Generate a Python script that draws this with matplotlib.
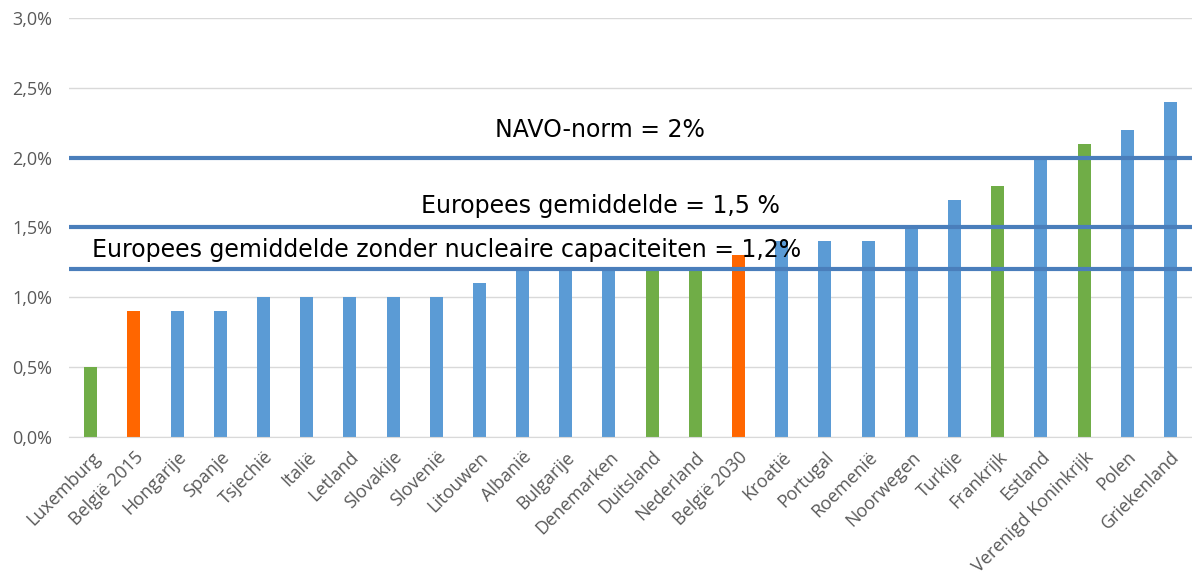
import matplotlib.pyplot as plt
import numpy as np

countries = ["Luxemburg", "België 2015", "Hongarije", "Spanje", "Tsjechië", "Italië",
             "Letland", "Slovakije", "Slovenië", "Litouwen", "Albanië", "Bulgarije",
             "Denemarken", "Duitsland", "Nederland", "België 2030", "Kroatië", "Portugal",
             "Roemenië", "Noorwegen", "Turkije", "Frankrijk", "Estland",
             "Verenigd Koninkrijk", "Polen", "Griekenland"]
values = [0.5, 0.9, 0.9, 0.9, 1.0, 1.0, 1.0, 1.0, 1.0, 1.1, 1.2, 1.2, 1.2, 1.2, 1.2,
          1.3, 1.4, 1.4, 1.4, 1.5, 1.7, 1.8, 2.0, 2.1, 2.2, 2.4]
groups = ["g", "o", "b", "b", "b", "b", "b", "b", "b", "b", "b", "b", "b", "g", "g",
          "o", "b", "b", "b", "b", "b", "g", "b", "g", "b", "b"]
norm_levels = [2.0, 1.5, 1.2]
norm_labels = ["NAVO-norm = 2%", "Europees gemiddelde = 1,5 %",
               "Europees gemiddelde zonder nucleaire capaciteiten = 1,2%"]

colors = {"b": "#5B9BD5", "g": "#70AD47", "o": "#FF6600"}

fig = plt.figure(figsize=(11.92, 5.78), dpi=100)
ax = fig.add_axes([0.058, 0.244, 0.942, 0.725])

x = np.arange(len(countries))
ax.bar(x, values, width=0.3, color=[colors[g] for g in groups], zorder=2)

for lvl in norm_levels:
    ax.axhline(lvl, color="#4A7EBB", linewidth=3, zorder=3)

# labels for the reference lines
ax.text(0.473, 2.2, norm_labels[0], transform=ax.get_yaxis_transform(),
        ha="center", va="center", fontsize=17, family="DejaVu Sans", zorder=4)
ax.text(0.473, 1.65, norm_labels[1], transform=ax.get_yaxis_transform(),
        ha="center", va="center", fontsize=17, family="DejaVu Sans", zorder=4)
ax.text(0.02, 1.34, norm_labels[2], transform=ax.get_yaxis_transform(),
        ha="left", va="center", fontsize=17, family="DejaVu Sans", zorder=4)

ax.set_xlim(-0.5, len(countries) - 0.5)
ax.set_ylim(0, 3.0)
ax.set_yticks(np.arange(0, 3.01, 0.5))
ax.set_yticklabels([f"{v:.1f}%".replace(".", ",") for v in np.arange(0, 3.01, 0.5)])
ax.set_xticks(x)
ax.set_xticklabels(countries, rotation=45, ha="right", rotation_mode="anchor")

for lbl in ax.get_xticklabels() + ax.get_yticklabels():
    lbl.set_family("Open Sans")
    lbl.set_fontsize(13)
    lbl.set_color("#595959")

ax.grid(axis="y", color="#D9D9D9", linewidth=1, zorder=0)
ax.tick_params(axis="x", length=0, pad=8)
ax.tick_params(axis="y", length=0, pad=12)
for side in ["top", "right", "left"]:
    ax.spines[side].set_visible(False)
ax.spines["bottom"].set_color("#D9D9D9")

fig.savefig("out.png", dpi=100)
